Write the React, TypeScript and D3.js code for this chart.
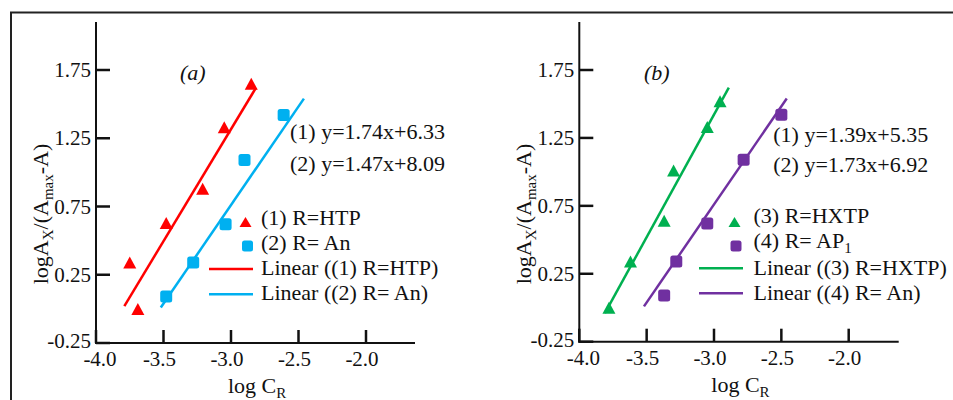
import React from 'react';
import * as d3 from 'd3';

// axis ticks
const xTicks = [-4.0, -3.5, -3.0, -2.5, -2.0];
const yTicks = [-0.25, 0.25, 0.75, 1.25, 1.75];

// panel (a) data
const htpX = [-3.75, -3.69, -3.48, -3.21, -3.05, -2.85];
const htpY = [0.34, 0.0, 0.63, 0.88, 1.33, 1.65];
const anX = [-3.48, -3.28, -3.04, -2.9, -2.61];
const anY = [0.09, 0.34, 0.62, 1.09, 1.42];
const htpFitX = [-3.79, -2.815];
const htpFitY = [0.02, 1.62];
const anFitX = [-3.52, -2.46];
const anFitY = [0.01, 1.54];

// panel (b) data
const hxtpX = [-3.78, -3.62, -3.37, -3.3, -3.05, -2.955];
const hxtpY = [0.0, 0.34, 0.64, 1.01, 1.33, 1.52];
const ap1X = [-3.37, -3.28, -3.05, -2.78, -2.5];
const ap1Y = [0.09, 0.34, 0.62, 1.09, 1.42];
const hxtpFitX = [-3.81, -2.89];
const hxtpFitY = [-0.04, 1.62];
const ap1FitX = [-3.52, -2.46];
const ap1FitY = [0.01, 1.54];

const FONT = '"Liberation Serif", "Times New Roman", serif';
const INK = '#111';

const zip = (xs: number[], ys: number[]) => xs.map((x, i) => [x, ys[i]] as [number, number]);

function Triangle({ cx, cy, w, h, fill }: any) {
  const p = d3.path();
  p.moveTo(cx, cy - h / 2);
  p.lineTo(cx + w / 2, cy + h / 2);
  p.lineTo(cx - w / 2, cy + h / 2);
  p.closePath();
  return <path d={p.toString()} fill={fill} />;
}

function Square({ cx, cy, s, fill }: any) {
  return <rect x={cx - s / 2} y={cy - s / 2} width={s} height={s} rx={2.5} fill={fill} />;
}

function Panel(props: any) {
  const { lay, tri, sq, triFit, sqFit, triColor, sqColor, tag, eqs, legend } = props;

  const x = d3.scaleLinear().domain([-4, -2]).range([lay.x0, lay.x1]);
  const y = d3.scaleLinear().domain([-0.25, 1.75]).range([lay.yBottom, lay.yTop]);
  const line = d3.line<[number, number]>().x((d) => x(d[0])).y((d) => y(d[1]));

  return (
    <g fontFamily={FONT} fill={INK}>
      {/* axes */}
      <line x1={lay.x0} x2={lay.x0} y1={lay.yAxisTop} y2={lay.yBottom + 1} stroke={INK} strokeWidth={2} />
      <line x1={lay.x0 - 1} x2={lay.xEnd} y1={lay.yBottom} y2={lay.yBottom} stroke={INK} strokeWidth={2} />
      {yTicks.map((t, i) => (
        <g key={'y' + t}>
          <line x1={lay.x0} x2={lay.x0 + 14} y1={y(t)} y2={y(t)} stroke={INK} strokeWidth={2.5} />
          <text x={lay.x0 - 5} y={y(t) + (i === 0 ? 5 : 7)} fontSize={21} textAnchor="end">{t.toFixed(2)}</text>
        </g>
      ))}
      {xTicks.map((t, i) => (
        <g key={'x' + t}>
          <line x1={x(t)} x2={x(t)} y1={lay.yBottom} y2={lay.yBottom - 13} stroke={INK} strokeWidth={2.5} />
          <text x={x(t) + (i === 0 ? 4 : -4)} y={lay.yBottom + 23} fontSize={21} textAnchor="middle">{t.toFixed(1)}</text>
        </g>
      ))}

      {/* axis titles */}
      <text x={lay.x0 + 132} y={lay.yBottom + 50} fontSize={22}>
        log C<tspan fontSize={15} dy={5}>R</tspan>
      </text>
      <text transform={`translate(${lay.x0 - 48},214) rotate(-90)`} fontSize={22} textAnchor="middle">
        logA<tspan fontSize={15} dy={5}>X</tspan>
        <tspan dy={-5}>/(A</tspan>
        <tspan fontSize={15} dy={5}>max</tspan>
        <tspan dy={-5}>-A)</tspan>
      </text>

      <text x={tag.x} y={80} fontSize={22} fontStyle="italic">{tag.label}</text>

      {/* fits */}
      <path d={line(zip(triFit[0], triFit[1])) || ''} stroke={triColor} strokeWidth={2.5} fill="none" />
      <path d={line(zip(sqFit[0], sqFit[1])) || ''} stroke={sqColor} strokeWidth={2.5} fill="none" />

      {/* points */}
      {zip(tri[0], tri[1]).map((d, i) => (
        <Triangle key={'t' + i} cx={x(d[0])} cy={y(d[1])} w={13} h={12} fill={triColor} />
      ))}
      {zip(sq[0], sq[1]).map((d, i) => (
        <Square key={'s' + i} cx={x(d[0])} cy={y(d[1])} s={12} fill={sqColor} />
      ))}

      {/* equations */}
      {eqs.lines.map((s: string, i: number) => (
        <text key={'e' + i} x={lay.x0 + 194} y={eqs.y[i]} fontSize={22}>{s}</text>
      ))}

      {/* legend */}
      <Triangle cx={legend.triX} cy={legend.my[0]} w={12} h={10} fill={triColor} />
      <Square cx={legend.sqX} cy={legend.my[1]} s={11} fill={sqColor} />
      <line x1={legend.lx[0]} x2={legend.lx[1]} y1={legend.my[2]} y2={legend.my[2]} stroke={triColor} strokeWidth={2.5} />
      <line x1={legend.lx[0]} x2={legend.lx[1]} y1={legend.my[3]} y2={legend.my[3]} stroke={sqColor} strokeWidth={2.5} />
      {legend.labels.map((s: any, i: number) => (
        <text key={'l' + i} x={legend.tx} y={legend.ty[i]} fontSize={22}>{s}</text>
      ))}
    </g>
  );
}

export default function App() {
  return (
    <svg width={953} height={400} style={{ position: 'absolute', left: 0, top: 0, background: '#fff' }}>
      <rect width={953} height={400} fill="#fff" />
      <line x1={10} x2={953} y1={12.5} y2={12.5} stroke="#222" strokeWidth={2} />
      <line x1={11} x2={11} y1={12} y2={400} stroke="#222" strokeWidth={2} />

      <Panel
        lay={{ x0: 96, x1: 366, yBottom: 343, yTop: 70, xEnd: 415, yAxisTop: 22 }}
        tri={[htpX, htpY]}
        sq={[anX, anY]}
        triFit={[htpFitX, htpFitY]}
        sqFit={[anFitX, anFitY]}
        triColor="#ff0000"
        sqColor="#00b0f0"
        tag={{ x: 180, label: '(a)' }}
        eqs={{ lines: ['(1) y=1.74x+6.33', '(2) y=1.47x+8.09'], y: [138.5, 171] }}
        legend={{
          triX: 245.5, sqX: 247.5, lx: [209, 253], tx: 261,
          my: [222, 246, 269, 294.3],
          ty: [225, 250, 275, 300],
          labels: ['(1) R=HTP', '(2) R= An', 'Linear ((1) R=HTP)', 'Linear ((2) R= An)'],
        }}
      />
      <Panel
        lay={{ x0: 579.3, x1: 848.7, yBottom: 341.7, yTop: 70, xEnd: 898.7, yAxisTop: 22 }}
        tri={[hxtpX, hxtpY]}
        sq={[ap1X, ap1Y]}
        triFit={[hxtpFitX, hxtpFitY]}
        sqFit={[ap1FitX, ap1FitY]}
        triColor="#00b050"
        sqColor="#7030a0"
        tag={{ x: 644, label: '(b)' }}
        eqs={{ lines: ['(1) y=1.39x+5.35', '(2) y=1.73x+6.92'], y: [141.5, 171.5] }}
        legend={{
          triX: 734.5, sqX: 736, lx: [699, 743], tx: 753.5,
          my: [222, 246, 268.3, 293.3],
          ty: [223.3, 248.3, 275, 300],
          labels: [
            '(3) R=HXTP',
            <>(4) R= AP<tspan fontSize={15} dy={5}>1</tspan></>,
            'Linear ((3) R=HXTP)',
            'Linear ((4) R= An)',
          ],
        }}
      />
    </svg>
  );
}
